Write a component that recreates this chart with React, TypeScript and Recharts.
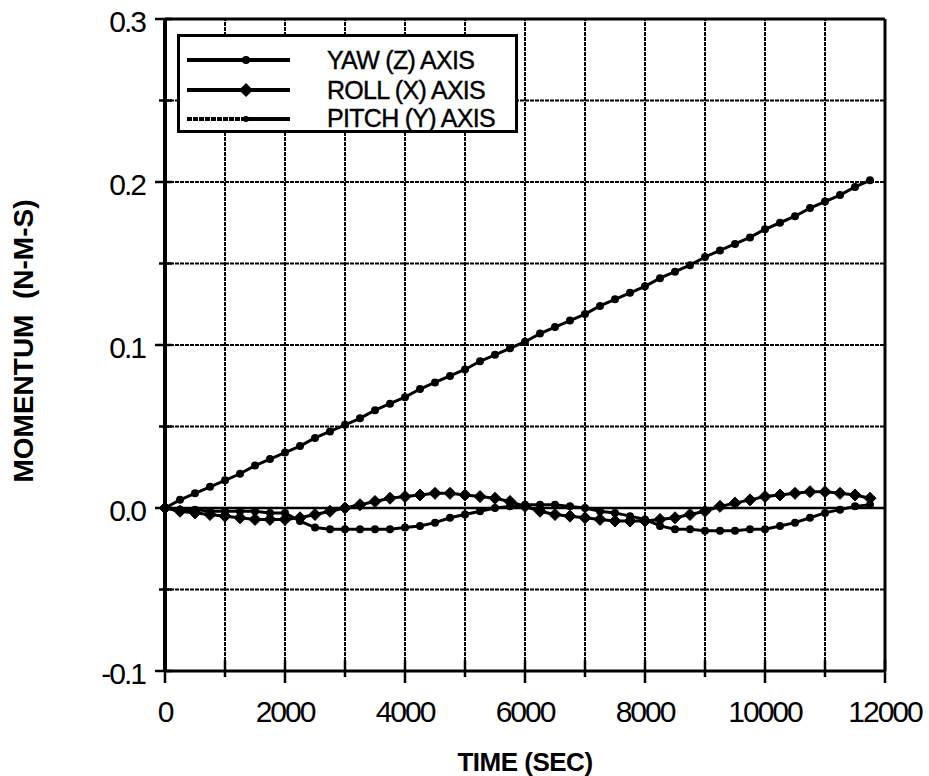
import React from "react";
import {
  LineChart,
  Line,
  XAxis,
  YAxis,
  ReferenceLine,
  Legend,
} from "recharts";

const times = [
  0, 250, 500, 750, 1000, 1250, 1500, 1750, 2000, 2250, 2500, 2750, 3000, 3250,
  3500, 3750, 4000, 4250, 4500, 4750, 5000, 5250, 5500, 5750, 6000, 6250, 6500,
  6750, 7000, 7250, 7500, 7750, 8000, 8250, 8500, 8750, 9000, 9250, 9500, 9750,
  10000, 10250, 10500, 10750, 11000, 11250, 11500, 11750,
];

const yawZ = [
  0, -0.001, -0.001, -0.002, -0.002, -0.002, -0.002, -0.003, -0.003, -0.008,
  -0.012, -0.013, -0.013, -0.013, -0.013, -0.013, -0.012, -0.011, -0.009,
  -0.006, -0.004, -0.002, 0.0, 0.001, 0.002, 0.002, 0.002, 0.001, 0.0, -0.002,
  -0.003, -0.005, -0.007, -0.011, -0.013, -0.013, -0.014, -0.014, -0.014,
  -0.013, -0.013, -0.011, -0.009, -0.006, -0.003, -0.001, 0.001, 0.002,
];

const rollX = [
  0, -0.002, -0.003, -0.004, -0.005, -0.006, -0.007, -0.007, -0.007, -0.006,
  -0.004, -0.002, 0.0, 0.002, 0.004, 0.006, 0.007, 0.008, 0.009, 0.009, 0.008,
  0.007, 0.006, 0.004, 0.001, -0.002, -0.004, -0.005, -0.006, -0.007, -0.008,
  -0.008, -0.008, -0.007, -0.006, -0.004, -0.002, 0.001, 0.003, 0.005, 0.007,
  0.008, 0.009, 0.01, 0.01, 0.009, 0.008, 0.006,
];

const pitchY = [
  0, 0.005, 0.009, 0.013, 0.017, 0.021, 0.026, 0.03, 0.034, 0.038, 0.043,
  0.047, 0.051, 0.055, 0.06, 0.064, 0.068, 0.073, 0.077, 0.081, 0.085, 0.09,
  0.094, 0.098, 0.102, 0.107, 0.111, 0.115, 0.119, 0.124, 0.128, 0.132, 0.136,
  0.141, 0.145, 0.149, 0.154, 0.158, 0.162, 0.166, 0.171, 0.175, 0.179, 0.184,
  0.188, 0.192, 0.197, 0.201,
];

const xTicks = [
  0, 1000, 2000, 3000, 4000, 5000, 6000, 7000, 8000, 9000, 10000, 11000, 12000,
];
const xLabelTicks = [0, 2000, 4000, 6000, 8000, 10000, 12000];
const yTicks = [-0.1, -0.05, 0, 0.05, 0.1, 0.15, 0.2, 0.25, 0.3];
const yLabelTicks = [-0.1, 0, 0.1, 0.2, 0.3];
const xGrid = [1000, 2000, 3000, 4000, 5000, 6000, 7000, 8000, 9000, 10000, 11000];
const yGrid = [-0.05, 0.05, 0.1, 0.15, 0.2, 0.25];

const seriesNames = ["YAW (Z) AXIS", "ROLL (X) AXIS", "PITCH (Y) AXIS"];

const data = times.map((t, i) => ({
  t,
  yaw: yawZ[i],
  roll: rollX[i],
  pitch: pitchY[i],
}));

const FONT = "'Liberation Sans', Arial, Helvetica, sans-serif";

const Diamond = (props: any) => {
  const { cx, cy } = props;
  if (cx == null || cy == null) return null;
  return (
    <polygon
      points={`${cx},${cy - 6} ${cx + 6},${cy} ${cx},${cy + 6} ${cx - 6},${cy}`}
      fill="#000"
      stroke="#000"
    />
  );
};

const XTick = (props: any) => {
  const { x, y, payload } = props;
  const v = payload.value;
  const major = xLabelTicks.includes(v);
  return (
    <g>
      <line
        x1={x}
        x2={x}
        y1={y - 11}
        y2={y + (major ? 12 : 6)}
        stroke="#000"
        strokeWidth={2.5}
      />
      {major && (
        <text
          x={x}
          y={y + 51}
          textAnchor="middle"
          fontFamily={FONT}
          fontSize={30}
          letterSpacing={-2}
          fill="#000"
        >
          {String(v)}
        </text>
      )}
    </g>
  );
};

const YTick = (props: any) => {
  const { x, y, payload } = props;
  const v = payload.value;
  const major = yLabelTicks.some((m) => Math.abs(m - v) < 1e-9);
  return (
    <g>
      <line
        x1={x - (major ? 10 : 6)}
        x2={x + 7}
        y1={y}
        y2={y}
        stroke="#000"
        strokeWidth={2.5}
      />
      {major && (
        <text
          x={x - 20}
          y={y + 13}
          textAnchor="end"
          fontFamily={FONT}
          fontSize={30}
          letterSpacing={-2}
          fill="#000"
        >
          {v.toFixed(1)}
        </text>
      )}
    </g>
  );
};

const LegendBox = () => (
  <div
    style={{
      width: 341,
      height: 99,
      boxSizing: "border-box",
      border: "3px solid #000",
      background: "#fff",
      position: "relative",
      fontFamily: FONT,
    }}
  >
    <svg
      width={335}
      height={93}
      overflow="visible"
      style={{ position: "absolute", left: 0, top: 0, overflow: "visible" }}
    >
      {/* YAW */}
      <line x1={7} x2={110} y1={23} y2={23} stroke="#000" strokeWidth={4} />
      <circle cx={66} cy={23} r={4} fill="#000" />
      {/* ROLL */}
      <line x1={7} x2={110} y1={53} y2={53} stroke="#000" strokeWidth={4} />
      <polygon points="66,46 73,53 66,60 59,53" fill="#000" />
      {/* PITCH */}
      <line x1={7} x2={66} y1={82} y2={82} stroke="#000" strokeWidth={4} strokeDasharray="5 1" />
      <line x1={66} x2={110} y1={82} y2={82} stroke="#000" strokeWidth={4} />
      <circle cx={66} cy={82} r={3} fill="#000" />
      {seriesNames.map((n, i) => (
        <text
          key={n}
          x={147}
          y={[32, 62, 90][i]}
          fontFamily={FONT}
          fontSize={25}
          letterSpacing={-0.7}
          stroke="#000"
          strokeWidth={0.4}
          fill="#000"
        >
          {n}
        </text>
      ))}
    </svg>
  </div>
);

export default function App() {
  return (
    <div
      style={{
        position: "absolute",
        left: 0,
        top: 0,
        width: 929,
        height: 776,
        background: "#fff",
      }}
    >
      <LineChart
        width={929}
        height={776}
        data={data}
        margin={{ top: 19, right: 44, bottom: 0, left: 0 }}
      >
        <XAxis
          dataKey="t"
          type="number"
          domain={[0, 12000]}
          ticks={xTicks}
          interval={0}
          height={105}
          tickLine={false}
          tickSize={0}
          tickMargin={0}
          tick={<XTick />}
          axisLine={{ stroke: "#000", strokeWidth: 3 }}
        />
        <YAxis
          type="number"
          domain={[-0.1, 0.3]}
          ticks={yTicks}
          interval={0}
          width={165}
          tickLine={false}
          tickSize={0}
          tickMargin={0}
          tick={<YTick />}
          axisLine={{ stroke: "#000", strokeWidth: 4 }}
          allowDataOverflow
        />
        {xGrid.map((g) => (
          <ReferenceLine key={"x" + g} x={g} stroke="#000" strokeWidth={2} strokeDasharray="4 1" />
        ))}
        {yGrid.map((g) => (
          <ReferenceLine key={"y" + g} y={g} stroke="#000" strokeWidth={2} strokeDasharray="4 1" />
        ))}
        <ReferenceLine y={0} stroke="#000" strokeWidth={2.5} />
        <ReferenceLine y={0.3} stroke="#000" strokeWidth={3} />
        <ReferenceLine x={12000} stroke="#000" strokeWidth={3} />
        <Legend
          layout="vertical"
          align="center"
          verticalAlign="middle"
          content={() => <LegendBox />}
          wrapperStyle={{ left: 177, top: 34, width: 341, height: 99 }}
        />
        <Line
          name={seriesNames[0]}
          dataKey="yaw"
          stroke="#000"
          strokeWidth={3}
          type="linear"
          dot={{ r: 2.5, fill: "#000", stroke: "#000" }}
          isAnimationActive={false}
        />
        <Line
          name={seriesNames[1]}
          dataKey="roll"
          stroke="#000"
          strokeWidth={3}
          type="linear"
          dot={<Diamond />}
          isAnimationActive={false}
        />
        <Line
          name={seriesNames[2]}
          dataKey="pitch"
          stroke="#000"
          strokeWidth={3}
          type="linear"
          dot={{ r: 2.5, fill: "#000", stroke: "#000" }}
          isAnimationActive={false}
        />
      </LineChart>
      <svg
        width={929}
        height={776}
        style={{ position: "absolute", left: 0, top: 0, pointerEvents: "none" }}
      >
        <text
          x={0}
          y={0}
          transform="translate(33,341) rotate(-90)"
          textAnchor="middle"
          fontFamily={FONT}
          fontSize={28}
          fontWeight={700}
          fill="#000"
          style={{ whiteSpace: "pre" }}
        >
          {"MOMENTUM  (N-M-S)"}
        </text>
        <text
          x={525}
          y={771}
          textAnchor="middle"
          fontFamily={FONT}
          fontSize={26}
          fontWeight={700}
          letterSpacing={-0.5}
          fill="#000"
        >
          TIME (SEC)
        </text>
      </svg>
    </div>
  );
}
